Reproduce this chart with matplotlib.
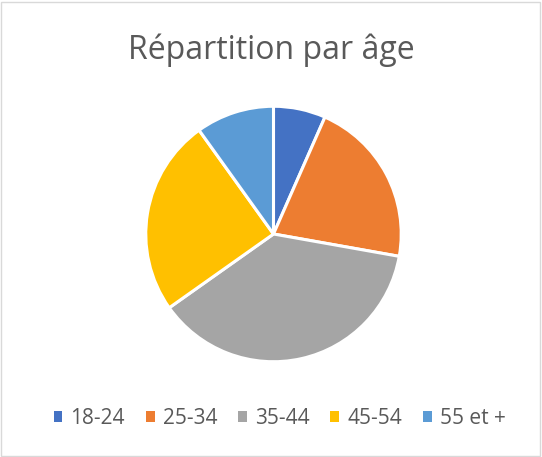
import matplotlib.pyplot as plt
from matplotlib.patches import Rectangle

# données
tranches = ["18-24", "25-34", "35-44", "45-54", "55 et +"]
parts = [6.6, 21.2, 37.4, 24.9, 9.9]
couleurs = ["#4472C4", "#ED7D31", "#A5A5A5", "#FFC000", "#5B9BD5"]

W, H = 542, 457
fig = plt.figure(figsize=(W / 100, H / 100), dpi=100)
fig.patch.set_facecolor("white")

# cadre du graphique
fig.add_artist(Rectangle((1 / W, 1 / H), 1 - 3 / W, 1 - 3 / H, transform=fig.transFigure,
                         fill=False, edgecolor="#D9D9D9", linewidth=1))

# camembert
cx, cy, r = 273.5, H - 234, 129
ax = fig.add_axes([(cx - r) / W, (cy - r) / H, 2 * r / W, 2 * r / H])
ax.pie(parts, colors=couleurs, startangle=90, counterclock=False, radius=1,
       wedgeprops={"edgecolor": "white", "linewidth": 2.2})
ax.set_xlim(-1.01, 1.01)
ax.set_ylim(-1.01, 1.01)
ax.set_aspect("equal")
ax.axis("off")

# titre
fig.text(271.5 / W, 1 - 59 / H, "Répartition par âge", ha="center", va="baseline",
         fontsize=23, color="#595959", family="Open Sans")

# légende
handles = [Rectangle((0, 0), 1, 1, facecolor=c, edgecolor="none") for c in couleurs]
leg = fig.legend(handles, tranches, loc="center", bbox_to_anchor=(279.5 / W, 1 - 418 / H), ncol=5,
                 frameon=False, handlelength=0.43, handleheight=0.43, handletextpad=0.38,
                 columnspacing=1.0, prop={"family": "Open Sans", "size": 15})
for t in leg.get_texts():
    t.set_color("#595959")

fig.savefig("out.png", dpi=100)
